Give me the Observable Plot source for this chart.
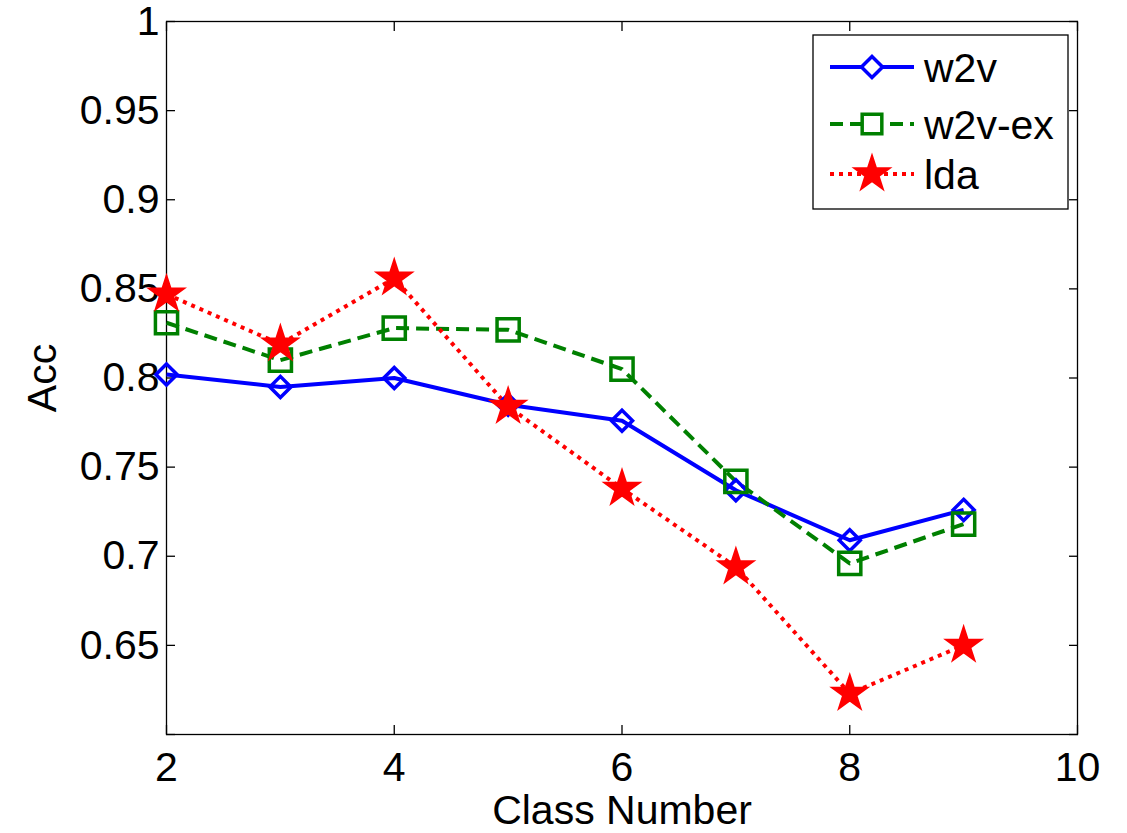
<!DOCTYPE html>
<html>
<head>
<meta charset="utf-8">
<script src="https://cdn.jsdelivr.net/npm/d3@7"></script>
<script src="https://cdn.jsdelivr.net/npm/@observablehq/plot@0.6"></script>
<style>
  html, body { margin: 0; padding: 0; background: white; }
  #wrap { position: relative; width: 1127px; height: 833px; overflow: hidden; }
  #legend { position: absolute; left: 0; top: 0; }
</style>
</head>
<body>
<div id="wrap"></div>
<script>
const classes = [2, 3, 4, 5, 6, 7, 8, 9];
const w2v   = [0.802, 0.795, 0.800, 0.785, 0.776, 0.737, 0.709, 0.726];
const w2vEx = [0.831, 0.810, 0.828, 0.827, 0.805, 0.742, 0.696, 0.718];
const lda   = [0.847, 0.819, 0.856, 0.784, 0.738, 0.694, 0.623, 0.650];
const seriesNames = ["w2v", "w2v-ex", "lda"];
const xTicks = [2, 4, 6, 8, 10];
const xLabels = ["2", "4", "6", "8", "10"];
const yTicks = [0.6, 0.65, 0.7, 0.75, 0.8, 0.85, 0.9, 0.95, 1];
const yLabels = ["", "0.65", "0.7", "0.75", "0.8", "0.85", "0.9", "0.95", "1"];
const xLabel = "Class Number";
const yLabel = "Acc";

const styles = {
  "w2v":    {color: "#0000ff", dash: null,   symbol: "diamond2", r: 9.5,  fill: "none"},
  "w2v-ex": {color: "#008000", dash: "13,7", symbol: "square",   r: 12.5, fill: "none"},
  "lda":    {color: "#ff0000", dash: "4,5",  symbol: "star",     r: 9.5,  fill: "#ff0000"}
};
const values = {"w2v": w2v, "w2v-ex": w2vEx, "lda": lda};
const rows = s => classes.map((c, i) => ({x: c, y: values[s][i], s}));

const font = "'Liberation Sans', Arial, sans-serif";
const FS = 41;
const lookup = (ticks, labels) => d => { const i = ticks.findIndex(t => Math.abs(t - d) < 1e-9); return i < 0 ? "" : labels[i]; };

const marks = [
  Plot.frame({stroke: "black", strokeWidth: 1.3}),
  Plot.axisX(xTicks, {anchor: "bottom", tickSize: -9, tickPadding: 26, tickFormat: lookup(xTicks, xLabels), fontSize: FS, label: null, strokeWidth: 1.3}),
  Plot.axisX(xTicks, {anchor: "top", tickSize: -9, tickFormat: () => "", label: null, strokeWidth: 1.3}),
  Plot.axisY(yTicks, {anchor: "left", tickSize: -9, tickPadding: 16, tickFormat: lookup(yTicks, yLabels), fontSize: FS, label: null, strokeWidth: 1.3}),
  Plot.axisY(yTicks, {anchor: "right", tickSize: -9, tickFormat: () => "", label: null, strokeWidth: 1.3}),
];
for (const s of seriesNames) {
  const st = styles[s];
  marks.push(Plot.line(rows(s), {x: "x", y: "y", stroke: st.color, strokeWidth: 4, strokeDasharray: st.dash, strokeLinecap: "butt"}));
}
for (const s of seriesNames) {
  const st = styles[s];
  marks.push(Plot.dot(rows(s), {x: "x", y: "y", symbol: st.symbol, r: st.r, stroke: st.color, fill: st.fill, strokeWidth: 3.5}));
}
marks.push(Plot.text([xLabel], {frameAnchor: "bottom", dy: 76, text: d => d, fontSize: FS, lineAnchor: "middle", textAnchor: "middle"}));
marks.push(Plot.text([yLabel], {frameAnchor: "left", dx: -124, text: d => d, fontSize: FS, rotate: -90, lineAnchor: "middle", textAnchor: "middle"}));

const chart = Plot.plot({
  width: 1127, height: 833,
  marginLeft: 166, marginRight: 50, marginTop: 21, marginBottom: 99,
  x: {domain: [2, 10]},
  y: {domain: [0.6, 1]},
  style: {fontFamily: font, fontSize: FS + "px", background: "white", color: "black"},
  marks
});
document.getElementById("wrap").appendChild(chart);

// Legend (overlay inside the axes box)
const leg = d3.select("#wrap").append("svg").attr("id", "legend").attr("width", 1127).attr("height", 833);
leg.append("rect").attr("x", 813).attr("y", 35).attr("width", 255).attr("height", 174)
  .attr("fill", "white").attr("stroke", "black").attr("stroke-width", 1.3);
const symMap = {diamond2: d3.symbolDiamond2, square: d3.symbolSquare2, star: d3.symbolStar};
seriesNames.forEach((s, i) => {
  const st = styles[s];
  const y = [67, 124, 174][i];
  leg.append("line").attr("x1", 830).attr("x2", 914).attr("y1", y).attr("y2", y)
    .attr("stroke", st.color).attr("stroke-width", 4).attr("stroke-dasharray", st.dash);
  leg.append("path").attr("transform", `translate(872,${y})`)
    .attr("d", d3.symbol(symMap[st.symbol], Math.PI * st.r * st.r)())
    .attr("fill", st.fill === "none" ? "white" : st.fill).attr("stroke", st.color).attr("stroke-width", 3.5);
  leg.append("text").attr("x", 924).attr("y", y).attr("dy", "0.36em")
    .attr("font-family", font).attr("font-size", FS).attr("fill", "black").text(s);
});
</script>
</body>
</html>
